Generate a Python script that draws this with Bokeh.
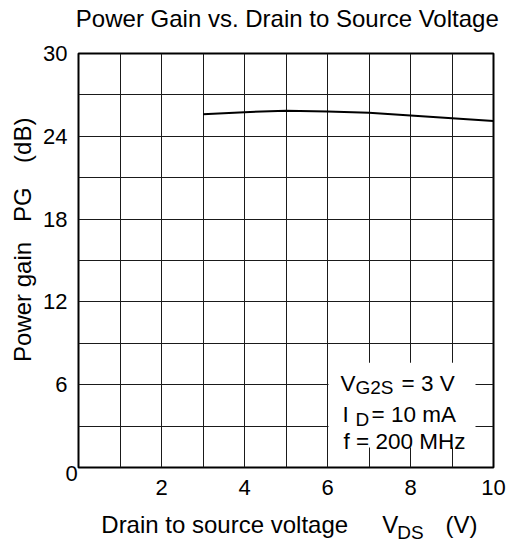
from bokeh.plotting import figure
from bokeh.models import FixedTicker, Label, BoxAnnotation, Range1d, LinearAxis, Title
from bokeh.embed import file_html
from bokeh.resources import INLINE

# ---- data ----
vds = [3, 4, 5, 6, 7, 8, 9, 10]
pg = [25.6, 25.75, 25.85, 25.8, 25.7, 25.5, 25.3, 25.1]
x_tick_values = [2, 4, 6, 8, 10]
y_tick_values = [6, 12, 18, 24, 30]
x_grid_values = [0, 1, 2, 3, 4, 5, 6, 7, 8, 9, 10]
y_grid_values = [0, 3, 6, 9, 12, 15, 18, 21, 24, 27, 30]
title_text = "Power Gain vs. Drain to Source Voltage"
x_label_parts = ["Drain to source voltage", "V", "(V)"]
x_label_sub = "DS"
y_label_parts = ["Power gain", "PG", "(dB)"]
cond_lines = ["= 3 V", "= 10 mA", "f = 200 MHz"]

FONT = "Liberation Sans"

# frame geometry (canvas pixels)
FL, FR, FT, FB = 78, 493, 53, 468
W, H = 517, 545


def X(px):
    return (px - FL) / ((FR - FL) / 10.0)


def Y(py):
    return (FB - py) / ((FB - FT) / 30.0)


p = figure(width=W, height=H, x_range=Range1d(0, 10), y_range=Range1d(0, 30),
           title=None, output_backend="svg", toolbar_location=None,
           min_border_left=FL, min_border_right=W - FR,
           min_border_top=FT, min_border_bottom=H - FB)
p.background_fill_color = "white"
p.border_fill_color = "white"
p.outline_line_color = "black"
p.outline_line_width = 2

p.xaxis.ticker = FixedTicker(ticks=x_tick_values, minor_ticks=[])
p.yaxis.ticker = FixedTicker(ticks=y_tick_values, minor_ticks=[])
p.xgrid.ticker = FixedTicker(ticks=x_grid_values, minor_ticks=[])
p.ygrid.ticker = FixedTicker(ticks=y_grid_values, minor_ticks=[])
for g in (p.xgrid, p.ygrid):
    g.grid_line_color = "#1a1a1a"
    g.grid_line_width = 1


def style_axis(ax, size, standoff):
    ax.axis_line_color = None
    ax.major_tick_line_color = None
    ax.minor_tick_line_color = None
    ax.major_tick_out = 0
    ax.major_tick_in = 0
    ax.minor_tick_out = 0
    ax.minor_tick_in = 0
    ax.major_label_text_font = FONT
    ax.major_label_text_font_size = size
    ax.major_label_text_color = "black"
    ax.major_label_standoff = standoff


def text_axis(positions, texts, size, standoff):
    ax = LinearAxis(ticker=FixedTicker(ticks=positions, minor_ticks=[]),
                    major_label_overrides={v: t for v, t in zip(positions, texts)})
    style_axis(ax, size, standoff)
    return ax


main_x = p.xaxis[0]
main_y = p.yaxis[0]
style_axis(main_x, "22px", -1)
style_axis(main_y, "22px", 11)

p.line(vds, pg, line_color="black", line_width=2)

# ---- chart title (row of text above the frame) ----
ax_title = text_axis([X(286.8)], [title_text], "24px", 22)
p.above = [ax_title]

# ---- "0" at the lower-left corner ----
zero_title = Title(text="0", align="left", offset=-13, vertical_align="top", standoff=-4,
                   text_font=FONT, text_font_size="22px", text_font_style="normal",
                   text_color="black")

# ---- x axis title with subscript ----
ax_xl = text_axis([X(224.2), X(389.7), X(460.9)], x_label_parts, "24px", 13)
ax_xs = text_axis([X(410)], [x_label_sub], "19px", -19)
p.below = [zero_title, main_x, ax_xl, ax_xs]

# ---- y axis title (rotated) ----
ax_yl = text_axis([Y(302), Y(204.5), Y(140)], y_label_parts, "24px", 4)
ax_yl.major_label_orientation = "parallel"
p.left = [main_y, ax_yl]

# conditions box
p.add_layout(BoxAnnotation(left=X(328), right=X(475), top=Y(363), bottom=Y(448),
                           fill_color="white", fill_alpha=1.0, line_color=None))


def lab(x, y, text, size):
    p.add_layout(Label(x=x, y=y, text=text, text_font=FONT, text_font_size=size,
                       text_color="black", text_align="left", text_baseline="alphabetic"))


lab(X(340), Y(383.5), "V", "22.5px")
lab(X(355), Y(388), "G2S", "19px")
lab(X(401), Y(383.5), cond_lines[0], "22.5px")
lab(X(342), Y(415), "I", "22.5px")
lab(X(355), Y(419.5), "D", "19px")
lab(X(371), Y(415), cond_lines[1], "22.5px")
lab(X(343), Y(441.7), cond_lines[2], "22.5px")

open("out.html", "w").write(file_html(p, INLINE))
